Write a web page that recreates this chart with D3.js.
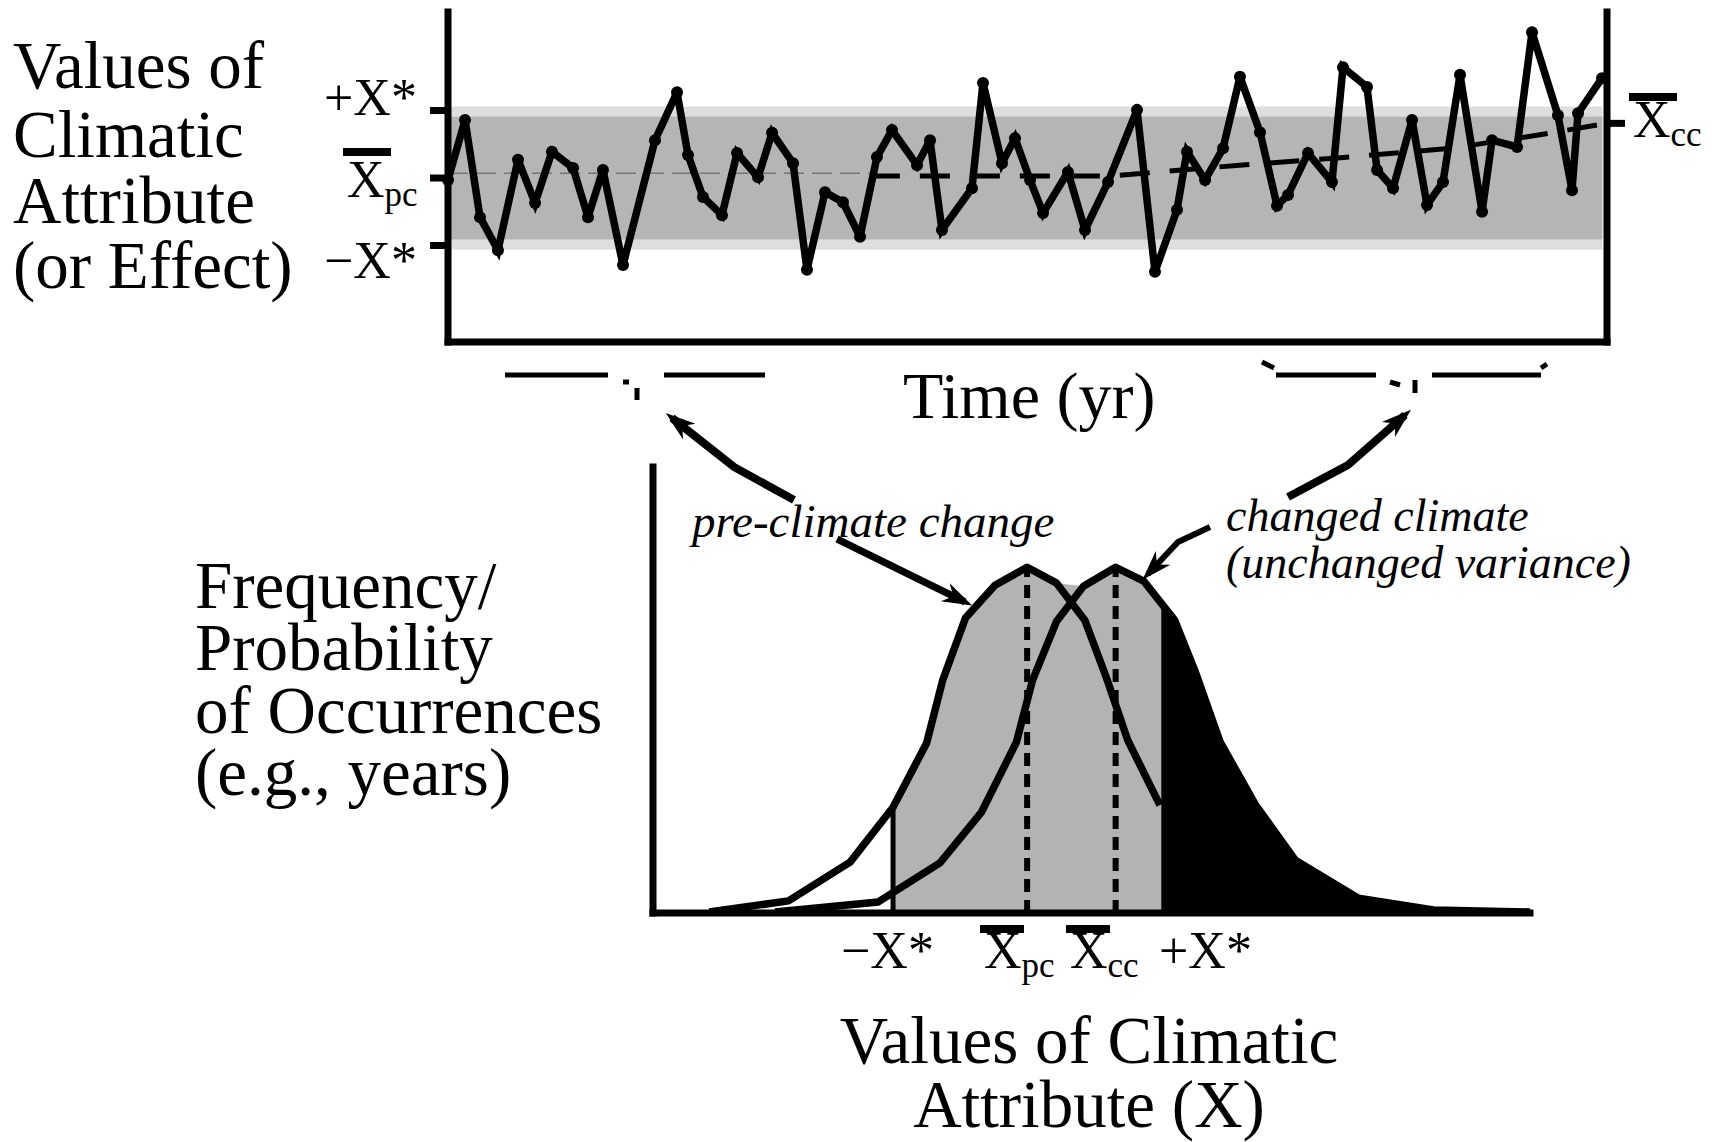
<!DOCTYPE html>
<html>
<head>
<meta charset="utf-8">
<script src="https://cdn.jsdelivr.net/npm/d3@7"></script>
<style>
  body { margin: 0; background: #fff; }
  svg text { font-family: "Liberation Serif", "Times New Roman", serif; fill: #000; }
</style>
</head>
<body>
<svg id="chart" width="1728" height="1142"></svg>
<script>
// ---- data: top panel (time series, values in units of X*) ----
var years = [0, 1.47, 2.76, 4.31, 6.04, 7.51, 8.97, 10.79, 12.08, 13.37, 15.10, 17.86, 19.76, 20.71, 22.00, 23.64,
  24.94, 26.75, 27.96, 29.77, 30.97, 32.53, 34.08, 35.55, 37.01, 38.31, 40.47, 41.59, 42.62, 45.21, 46.16, 47.80,
  48.92, 50.22, 51.34, 53.49, 54.96, 56.95, 59.45, 61.00, 62.90, 63.76, 65.32, 66.87, 68.33, 70.06, 71.53, 72.48,
  74.20, 76.27, 77.22, 79.29, 80.16, 81.54, 83.18, 84.47, 85.85, 87.32, 89.22, 90.08, 92.24, 93.53, 95.77, 96.98,
  97.50, 99.57];
var attrValues = [-0.03, 0.86, -0.58, -1.07, 0.27, -0.37, 0.39, 0.15, -0.58, 0.12, -1.29, 0.56, 1.27, 0.34, -0.28, -0.55,
  0.37, 0.01, 0.67, 0.22, -1.36, -0.21, -0.36, -0.87, 0.31, 0.71, 0.19, 0.56, -0.77, -0.15, 1.41, 0.22,
  0.59, -0.03, -0.52, 0.09, -0.77, -0.06, 1.01, -1.39, -0.47, 0.39, -0.03, 0.44, 1.50, 0.68, -0.41, -0.25,
  0.37, -0.06, 1.64, 1.35, 0.12, -0.15, 0.86, -0.40, -0.06, 1.53, -0.50, 0.56, 0.46, 2.16, 0.93, -0.18,
  0.96, 1.48];
var trendYears = [36.4, 57.1, 68.3, 77.0, 86.5, 94.2, 100];
var trendValues = [0.03, 0.03, 0.19, 0.30, 0.44, 0.64, 0.81];
var thresholds = [-1, 1];      // -X*, +X*
var meanPC = 0, meanCCTop = 0.81;

// ---- data: bottom panel (frequency distributions) ----
var preX = [-2.37, -1.78, -1.32, -1.00, -0.75, -0.63, -0.46, -0.24, 0, 0.22, 0.43, 0.59, 0.75, 0.99];
var preF = [0.003, 0.035, 0.147, 0.306, 0.491, 0.673, 0.853, 0.948, 1.0, 0.954, 0.847, 0.682, 0.500, 0.312];
var ccX = [-1.88, -1.11, -0.65, -0.34, -0.08, 0.04, 0.22, 0.42, 0.66, 0.87, 1.10, 1.25, 1.44, 1.70, 2.00, 2.47, 3.03, 3.75];
var ccF = [0.003, 0.032, 0.145, 0.292, 0.494, 0.673, 0.844, 0.945, 1.0, 0.960, 0.847, 0.702, 0.494, 0.315, 0.153, 0.043, 0.009, 0.003];
var meanCC = 0.66;

var svg = d3.select("#chart");

// ================= top panel =================
var xT = d3.scaleLinear().domain([0, 100]).range([448, 1607]);
var yT = d3.scaleLinear().domain([-2.43, 2.49]).range([342, 10]);

// shaded band between -X* and +X* (soft edge)
svg.append("rect").attr("x", xT(0)).attr("width", xT(99.6) - xT(0))
  .attr("y", yT(1.06)).attr("height", yT(-1.06) - yT(1.06)).attr("fill", "#dedede");
svg.append("rect").attr("x", xT(0)).attr("width", xT(99.6) - xT(0))
  .attr("y", yT(0.91)).attr("height", yT(-0.91) - yT(0.91)).attr("fill", "#b5b5b5");

// mean lines
svg.append("line").attr("x1", xT(0)).attr("x2", xT(36.4)).attr("y1", yT(0.07)).attr("y2", yT(0.07))
  .attr("stroke", "#777").attr("stroke-width", 1.5).attr("stroke-dasharray", "20 8");
var trend = d3.zip(trendYears, trendValues);
svg.append("path").datum(trend)
  .attr("d", d3.line().x(function(d) { return xT(d[0]); }).y(function(d) { return yT(d[1]); }))
  .attr("fill", "none").attr("stroke", "#000").attr("stroke-width", 5).attr("stroke-dasharray", "30 20");

// series
var series = d3.zip(years, attrValues);
svg.append("path").datum(series)
  .attr("d", d3.line().x(function(d) { return xT(d[0]); }).y(function(d) { return yT(d[1]); }))
  .attr("fill", "none").attr("stroke", "#000").attr("stroke-width", 7.5).attr("stroke-linejoin", "miter").attr("stroke-miterlimit", 3);
svg.selectAll("circle.pt").data(series).enter().append("circle").attr("class", "pt")
  .attr("cx", function(d) { return xT(d[0]); }).attr("cy", function(d) { return yT(d[1]); })
  .attr("r", 6).attr("fill", "#000");

// frame (left, bottom, right)
var frame = svg.append("g").attr("stroke", "#000").attr("stroke-width", 7).attr("stroke-linecap", "square");
frame.append("line").attr("x1", xT(0)).attr("x2", xT(0)).attr("y1", 12).attr("y2", yT.range()[0]);
frame.append("line").attr("x1", xT(100)).attr("x2", xT(100)).attr("y1", 12).attr("y2", yT.range()[0]);
frame.append("line").attr("x1", xT(0)).attr("x2", xT(100)).attr("y1", yT.range()[0]).attr("y2", yT.range()[0]);
// ticks
[1, 0, -1].forEach(function(v) {
  svg.append("line").attr("x1", xT(0) - 18).attr("x2", xT(0)).attr("y1", yT(v)).attr("y2", yT(v))
    .attr("stroke", "#000").attr("stroke-width", 7);
});
svg.append("line").attr("x1", xT(100)).attr("x2", xT(100) + 18).attr("y1", yT(meanCCTop)).attr("y2", yT(meanCCTop))
  .attr("stroke", "#000").attr("stroke-width", 7);

// helper: X with overbar and subscript
function xbar(g, x, y, sub, size, barOff, barW) {
  g.append("rect").attr("x", x - 4).attr("y", y - barOff).attr("width", barW).attr("height", 8).attr("fill", "#000");
  var t = g.append("text").attr("x", x).attr("y", y).style("font-size", size + "px");
  t.append("tspan").text("X");
  t.append("tspan").attr("dy", 9).style("font-size", Math.round(size * 0.68) + "px").text(sub);
}

// top labels
var lbl = svg.append("g");
["Values of", "Climatic", "Attribute", "(or Effect)"].forEach(function(s, i) {
  lbl.append("text").attr("x", 13).attr("y", [88, 157, 223, 288][i]).style("font-size", "67px").text(s);
});
lbl.append("text").attr("x", 324).attr("y", 115).style("font-size", "52px").text("+X*");
lbl.append("text").attr("x", 324).attr("y", 278).style("font-size", "52px").text("\u2212X*");
xbar(lbl, 347, 197, "pc", 52, 49, 48);
xbar(lbl, 1633, 137, "cc", 52, 44, 48);
lbl.append("text").attr("x", 903).attr("y", 418).style("font-size", "66px").text("Time (yr)");

// brace glyph remnants under time axis
var br = svg.append("g").attr("stroke", "#000").attr("fill", "none");
br.append("path").attr("stroke-width", 5).attr("d", "M505,375H608M664,375H765M1276,375H1376M1432,375H1541");
br.append("path").attr("stroke-width", 5).attr("d", "M623,382h6M637,388v12M1262,362l12,6M1541,368l6,-4M1390,382l10,3M1415,380v13");

// arrows
function arrow(pts, w) {
  svg.append("path").datum(pts).attr("d", d3.line()).attr("fill", "none").attr("stroke", "#000").attr("stroke-width", w);
  var a = pts[pts.length - 2], b = pts[pts.length - 1];
  var dx = b[0] - a[0], dy = b[1] - a[1], L = Math.sqrt(dx * dx + dy * dy);
  var ux = dx / L, uy = dy / L, nx = -uy, ny = ux;
  var len = 30, hw = 10;
  var tip = [b[0] + ux * 8, b[1] + uy * 8];
  var back = [tip[0] - ux * len, tip[1] - uy * len];
  var notch = [tip[0] - ux * len * 0.7, tip[1] - uy * len * 0.7];
  svg.append("path").attr("fill", "#000")
    .attr("d", "M" + tip + "L" + [back[0] + nx * hw, back[1] + ny * hw] + "L" + notch + "L" + [back[0] - nx * hw, back[1] - ny * hw] + "Z");
}
arrow([[794, 500], [734, 467], [672, 418]], 8);
arrow([[1288, 497], [1348, 465], [1405, 415]], 8);
arrow([[837, 539], [965, 602]], 7);
arrow([[1210, 527], [1178, 542], [1148, 574]], 6);

// ================= bottom panel =================
var xD = d3.scaleLinear().domain([-2.79, 3.75]).range([653, 1530]);
var yD = d3.scaleLinear().domain([0, 1.29]).range([913, 467]);

function interp(xs, fs, x) {
  if (x < xs[0] || x > xs[xs.length - 1]) return 0;
  for (var i = 1; i < xs.length; i++) {
    if (x <= xs[i]) return fs[i - 1] + (fs[i] - fs[i - 1]) * (x - xs[i - 1]) / (xs[i] - xs[i - 1]);
  }
  return 0;
}

// grey area between -X* and +X* under both curves
var brk = [thresholds[0], thresholds[1]].concat(preX, ccX).filter(function(x) { return x >= thresholds[0] && x <= thresholds[1]; });
brk = Array.from(new Set(brk)).sort(d3.ascending);
var grey = brk.map(function(x) { return [x, Math.max(interp(preX, preF, x), interp(ccX, ccF, x))]; });
var area = d3.area().x(function(d) { return xD(d[0]); }).y0(yD(0)).y1(function(d) { return yD(d[1]); });
svg.append("path").datum(grey).attr("d", area).attr("fill", "#b3b3b3");

// black tail beyond +X*
var tail = [[thresholds[1], interp(ccX, ccF, thresholds[1])]].concat(
  d3.zip(ccX, ccF).filter(function(d) { return d[0] > thresholds[1]; }));
svg.append("path").datum(tail).attr("d", area).attr("fill", "#000");

// -X* vertical
svg.append("line").attr("x1", xD(-1)).attr("x2", xD(-1)).attr("y1", yD(0)).attr("y2", yD(interp(preX, preF, -1)))
  .attr("stroke", "#000").attr("stroke-width", 5);

// mean dashed verticals
[meanPC, meanCC].forEach(function(m) {
  svg.append("line").attr("x1", xD(m)).attr("x2", xD(m)).attr("y1", yD(0)).attr("y2", yD(1))
    .attr("stroke", "#000").attr("stroke-width", 6).attr("stroke-dasharray", "13 8");
});

var curve = d3.line().x(function(d) { return xD(d[0]); }).y(function(d) { return yD(d[1]); });
svg.append("path").datum(d3.zip(preX, preF)).attr("d", curve)
  .attr("fill", "none").attr("stroke", "#000").attr("stroke-width", 7.5).attr("stroke-linejoin", "round");
svg.append("path").datum(d3.zip(ccX, ccF)).attr("d", curve)
  .attr("fill", "none").attr("stroke", "#000").attr("stroke-width", 7.5).attr("stroke-linejoin", "round");

// axes
var ax = svg.append("g").attr("stroke", "#000").attr("stroke-width", 7).attr("stroke-linecap", "square");
ax.append("line").attr("x1", xD.range()[0]).attr("x2", xD.range()[0]).attr("y1", yD.range()[1]).attr("y2", yD(0));
ax.append("line").attr("x1", xD.range()[0]).attr("x2", xD.range()[1]).attr("y1", yD(0)).attr("y2", yD(0));

// bottom labels
var bl = svg.append("g");
["Frequency/", "Probability", "of Occurrences", "(e.g., years)"].forEach(function(s, i) {
  bl.append("text").attr("x", 195).attr("y", [608, 670, 733, 795][i]).style("font-size", "67px").text(s);
});
bl.append("text").attr("x", 841).attr("y", 968).style("font-size", "52px").text("\u2212X*");
bl.append("text").attr("x", 1159).attr("y", 968).style("font-size", "52px").text("+X*");
xbar(bl, 984, 968, "pc", 52, 43, 44);
xbar(bl, 1070, 968, "cc", 52, 43, 44);
bl.append("text").attr("x", 1089).attr("y", 1063).attr("text-anchor", "middle").style("font-size", "67px").text("Values of Climatic");
bl.append("text").attr("x", 1089).attr("y", 1127).attr("text-anchor", "middle").style("font-size", "67px").text("Attribute (X)");

bl.append("text").attr("x", 692).attr("y", 537).style("font-size", "47px").style("font-style", "italic").text("pre-climate change");
bl.append("text").attr("x", 1226).attr("y", 531).style("font-size", "46px").style("font-style", "italic").text("changed climate");
bl.append("text").attr("x", 1226).attr("y", 578).style("font-size", "46px").style("font-style", "italic").text("(unchanged variance)");
</script>
</body>
</html>
